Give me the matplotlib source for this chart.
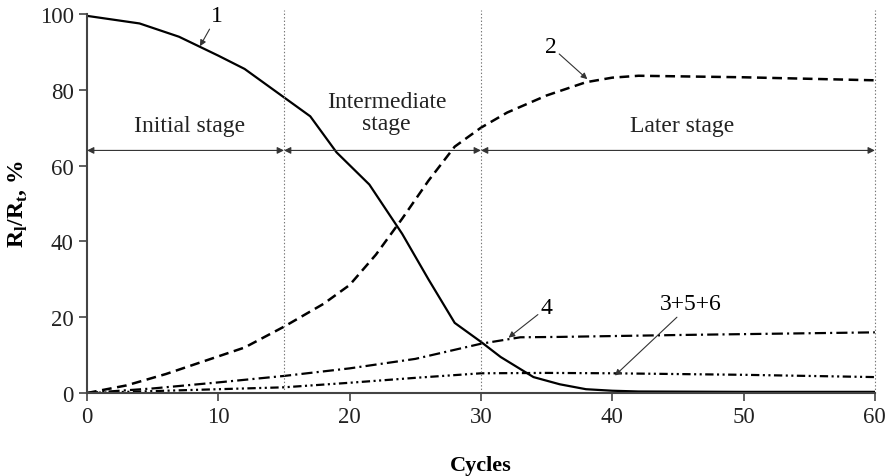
import numpy as np
import matplotlib
matplotlib.use('Agg')
import matplotlib.pyplot as plt

plt.rcParams['font.family'] = ['Liberation Serif', 'DejaVu Serif']
plt.rcParams['mathtext.fontset'] = 'custom'
plt.rcParams['mathtext.rm'] = 'Liberation Serif'
plt.rcParams['mathtext.bf'] = 'Liberation Serif:bold'
plt.rcParams['lines.scale_dashes'] = False

# curve 1 (solid)
x1 = [0, 4, 7, 10, 12, 15, 17, 19, 21.5, 24, 26, 28, 30, 31.5, 34, 36, 38, 40, 42, 50, 60]
y1 = [99.5, 97.5, 94, 89, 85.5, 78, 73, 63.5, 55, 42, 30, 18.5, 13.5, 9.5, 4.2, 2.3, 1.0, 0.6, 0.4, 0.3, 0.3]
# curve 2 (dashed)
x2 = [0, 3, 6, 9, 12, 15, 18, 20, 22, 24, 26, 28, 30, 32, 35, 38, 40, 42, 50, 60]
y2 = [0, 2, 5, 8.5, 12, 17.5, 23.5, 28.5, 36.5, 46, 56, 65, 70, 74, 78.5, 82, 83.2, 83.7, 83.3, 82.5]
# curve 4 (dash-dot)
x4 = [0, 5, 10, 15, 20, 25, 30, 33, 36, 45, 60]
y4 = [0, 1.2, 2.8, 4.5, 6.5, 9, 13, 14.7, 14.8, 15.3, 16]
# curve 3+5+6 (dash-dot-dot)
x3 = [0, 5, 10, 15, 20, 25, 30, 35, 40, 50, 60]
y3 = [0, 0.5, 1.0, 1.5, 2.7, 4.0, 5.2, 5.3, 5.2, 4.8, 4.2]

stage_bounds = [0, 15, 30, 60]
stage_names = ['Initial stage', 'Intermediate\nstage', 'Later stage']
stage_text_pos = [(7.8, 70.5), (22.8, 74), (45.3, 70.5)]
arrow_y = 64

fig = plt.figure(figsize=(8.9, 4.77), dpi=100)
ax = fig.add_axes([0.0978, 0.174, 0.8852, 0.7946])

ax.plot(x1, y1, color='black', lw=1.6)
ax.plot(x2, y2, color='black', lw=1.8, dashes=(7, 4))
ax.plot(x4, y4, color='black', lw=1.6, dashes=(8, 3, 1.5, 3))
ax.plot(x3, y3, color='black', lw=1.6, dashes=(6, 2.5, 1.5, 2.5, 1.5, 2.5))

for xb in stage_bounds[1:]:
    ax.plot([xb, xb], [0, 101], color='#777777', lw=0.8, ls=(0, (1, 1.5)), clip_on=False)

for i in range(3):
    ax.annotate('', xy=(stage_bounds[i + 1], arrow_y), xytext=(stage_bounds[i], arrow_y),
                arrowprops=dict(arrowstyle='<|-|>', color='#333333', lw=0.8,
                                mutation_scale=10, shrinkA=0, shrinkB=0))
    ax.text(stage_text_pos[i][0], stage_text_pos[i][1], stage_names[i], ha='center', va='center',
            fontsize=17, color='#222222', linespacing=1.1)

arr = dict(arrowstyle='-|>', color='#333333', lw=0.8, mutation_scale=9, shrinkA=0, shrinkB=0)
ax.annotate('1', xy=(8.6, 91.5), xytext=(9.9, 99.5), fontsize=17, ha='center', va='center', arrowprops=arr)
ax.annotate('2', xy=(38.1, 82.8), xytext=(35.3, 91.5), fontsize=17, ha='center', va='center', arrowprops=arr)
ax.annotate('4', xy=(32.1, 14.6), xytext=(35.0, 22.5), fontsize=17, ha='center', va='center', arrowprops=arr)
ax.annotate('3+5+6', xy=(40.2, 4.6), xytext=(46.0, 23.5), fontsize=17, ha='center', va='center', arrowprops=arr)

ax.set_xlim(0, 60)
ax.set_ylim(0, 100)
ax.set_xticks(np.arange(0, 61, 10))
ax.set_yticks(np.arange(0, 101, 20))
for s in ['top', 'right']:
    ax.spines[s].set_visible(False)
for s in ['left', 'bottom']:
    ax.spines[s].set_linewidth(1.5)
    ax.spines[s].set_color('#444444')
ax.tick_params(direction='out', length=6, width=1.2, colors='#444444', labelsize=16.5,
               labelcolor='#222222')
ax.set_xlabel('Cycles', fontsize=16, fontweight='bold', labelpad=20)
ax.set_ylabel(r'R$_{\mathbf{l}}$/R$_{\mathbf{t}}$, %', fontsize=17, fontweight='bold', labelpad=8)

fig.savefig('out.png', dpi=100)
